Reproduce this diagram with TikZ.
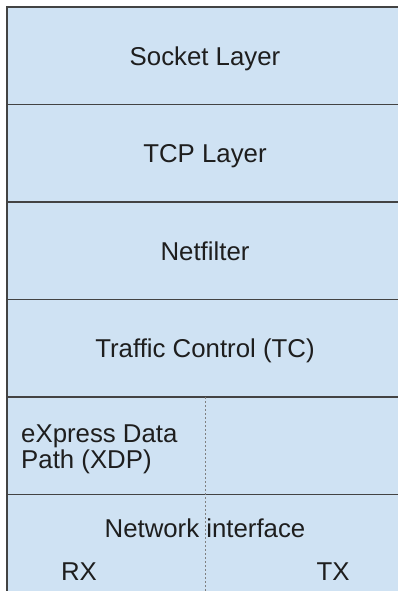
\documentclass[tikz,border=0pt]{standalone}
\usepackage{fontspec}
\setmainfont{Liberation Sans}
\usepackage{tikz}
\usepackage{xcolor}
\usetikzlibrary{positioning}
\definecolor{layerblue}{RGB}{207,226,243}
\definecolor{layerline}{RGB}{67,67,67}
\definecolor{layerink}{RGB}{30,30,30}

\begin{document}
\begin{tikzpicture}[
    x=1pt, y=-1pt,
    layer/.style={rectangle, draw=layerline, line width=1.6pt, fill=layerblue, text=layerink, minimum width=396pt, minimum height=97.5pt, inner sep=0pt, outer sep=0pt, font=\fontsize{25.8}{28}\selectfont, text height=19pt, text depth=0pt},
    layertext/.style={inner sep=0pt, text=layerink, font=\fontsize{25.8}{26}\selectfont},
    divider/.style={draw=gray, line width=0.8pt, dash pattern=on 2pt off 2pt}
]
\clip (0,0) rectangle (398,591);

\node[layer, anchor=north west] (socket) at (7,7) {Socket Layer};
\node[layer, below=0pt of socket] (tcp) {TCP Layer};
\node[layer, below=0pt of tcp] (netfilter) {Netfilter};
\node[layer, below=0pt of netfilter] (tc) {Traffic Control (TC)};
\node[layer, below=0pt of tc] (xdp) {};
\node[layer, below=0pt of xdp] (nic) {};

% RX / TX halves
\draw[divider] (xdp.north) -- (nic.south);

\node[layertext, anchor=west, align=left, yshift=-4pt] (xdptext) at ([xshift=14pt]xdp.west) {eXpress Data\\Path (XDP)};
\node[layertext, anchor=base] (nictext) at ([yshift=-42.5pt]nic.north) {Network interface};
\node[layertext, anchor=base] (rx) at (79,580) {RX};
\node[layertext, anchor=base] (tx) at (333,580) {TX};

\end{tikzpicture}
\end{document}
